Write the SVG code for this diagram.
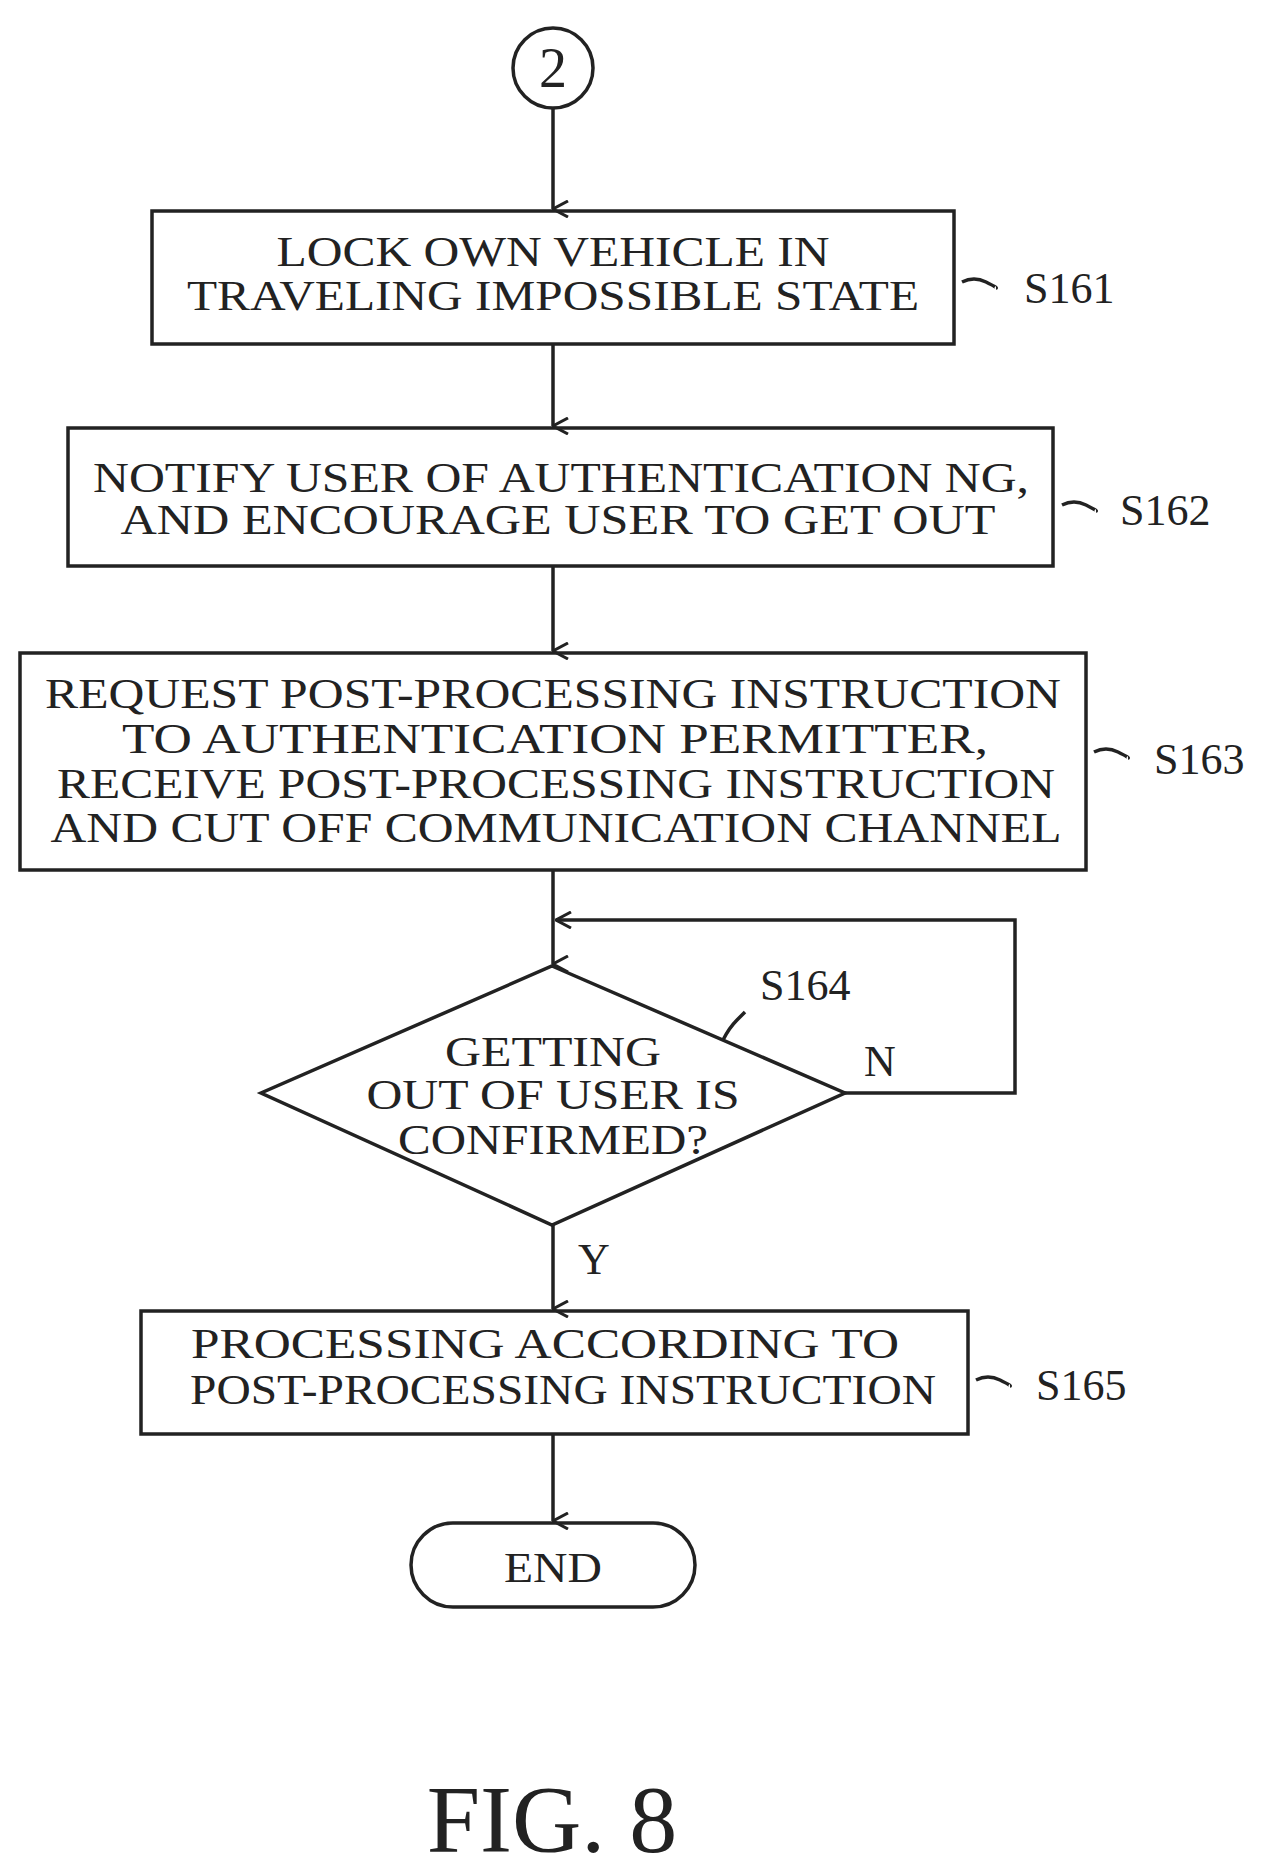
<svg xmlns="http://www.w3.org/2000/svg" width="1266" height="1872" viewBox="0 0 1266 1872">
<style>
.s{fill:none;stroke:#222;stroke-width:3.5}
.t{font-family:"Liberation Serif",serif;font-size:42px;fill:#222;text-anchor:middle}
.l{font-family:"Liberation Serif",serif;font-size:44px;fill:#222}
</style>
<defs><marker id="a" markerWidth="18" markerHeight="20" refX="9" refY="19" orient="auto" markerUnits="userSpaceOnUse" viewBox="0 0 18 20"><path d="M1,4 L9,19 L17,4" fill="none" stroke="#222" stroke-width="3"/></marker>
<marker id="b" markerWidth="20" markerHeight="18" refX="19" refY="9" orient="auto" markerUnits="userSpaceOnUse" viewBox="0 0 20 18"><path d="M4,1 L19,9 L4,17" fill="none" stroke="#222" stroke-width="3"/></marker></defs>
<g id="connectors" class="s">
<path d="M553,108 V209" marker-end="url(#a)"/>
<path d="M553,344 V426" marker-end="url(#a)"/>
<path d="M553,566 V651" marker-end="url(#a)"/>
<path d="M553,870 V964" marker-end="url(#a)"/>
<path d="M845,1093 H1015 V920 H556" marker-end="url(#b)"/>
<path d="M553,1225 V1309" marker-end="url(#a)"/>
<path d="M553,1434 V1521" marker-end="url(#a)"/>
<path d="M962,282 q12,-6 24,0 t10,6"/>
<path d="M1062,505 q12,-6 24,0 t10,6"/>
<path d="M1094,752 q12,-6 24,0 t10,6"/>
<path d="M723,1040 q6,-12 14,-20 t8,-8"/>
<path d="M976,1380 q12,-6 24,0 t10,6"/>
</g>
<g id="start"><circle class="s" cx="553" cy="68" r="40"/><text class="t" x="553" y="87" style="font-size:56px">2</text></g>
<g id="S161"><rect class="s" x="152" y="211" width="802" height="133"/>
<text class="t" x="553" y="266" textLength="553" lengthAdjust="spacingAndGlyphs">LOCK OWN VEHICLE IN</text>
<text class="t" x="553" y="310" textLength="732" lengthAdjust="spacingAndGlyphs">TRAVELING IMPOSSIBLE STATE</text>
<text class="l" x="1024" y="303">S161</text></g>
<g id="S162"><rect class="s" x="68" y="428" width="985" height="138"/>
<text class="t" x="561" y="492" textLength="936" lengthAdjust="spacingAndGlyphs">NOTIFY USER OF AUTHENTICATION NG,</text>
<text class="t" x="558" y="534" textLength="875" lengthAdjust="spacingAndGlyphs">AND ENCOURAGE USER TO GET OUT</text>
<text class="l" x="1120" y="525">S162</text></g>
<g id="S163"><rect class="s" x="20" y="653" width="1066" height="217"/>
<text class="t" x="553" y="708" textLength="1016" lengthAdjust="spacingAndGlyphs">REQUEST POST-PROCESSING INSTRUCTION</text>
<text class="t" x="555" y="753" textLength="866" lengthAdjust="spacingAndGlyphs">TO AUTHENTICATION PERMITTER,</text>
<text class="t" x="556" y="798" textLength="998" lengthAdjust="spacingAndGlyphs">RECEIVE POST-PROCESSING INSTRUCTION</text>
<text class="t" x="556" y="842" textLength="1011" lengthAdjust="spacingAndGlyphs">AND CUT OFF COMMUNICATION CHANNEL</text>
<text class="l" x="1154" y="774">S163</text></g>
<g id="S164"><path class="s" d="M552,966 L845,1093 L552,1225 L261,1093 Z"/>
<text class="t" x="553" y="1066" textLength="216" lengthAdjust="spacingAndGlyphs">GETTING</text>
<text class="t" x="553" y="1109" textLength="373" lengthAdjust="spacingAndGlyphs">OUT OF USER IS</text>
<text class="t" x="553" y="1154" textLength="310" lengthAdjust="spacingAndGlyphs">CONFIRMED?</text>
<text class="l" x="760" y="1000">S164</text>
<text class="l" x="864" y="1076">N</text>
<text class="l" x="578" y="1274">Y</text></g>
<g id="S165"><rect class="s" x="141" y="1311" width="827" height="123"/>
<text class="t" x="545" y="1358" textLength="708" lengthAdjust="spacingAndGlyphs">PROCESSING ACCORDING TO</text>
<text class="t" x="563" y="1404" textLength="746" lengthAdjust="spacingAndGlyphs">POST-PROCESSING INSTRUCTION</text>
<text class="l" x="1036" y="1400">S165</text></g>
<g id="end"><rect class="s" x="411" y="1523" width="284" height="84" rx="42"/>
<text class="t" x="553" y="1582" textLength="98" lengthAdjust="spacingAndGlyphs">END</text></g>
<text x="552" y="1852" style="font-family:'Liberation Serif',serif;font-size:96px;fill:#222;text-anchor:middle">FIG. 8</text>
</svg>
